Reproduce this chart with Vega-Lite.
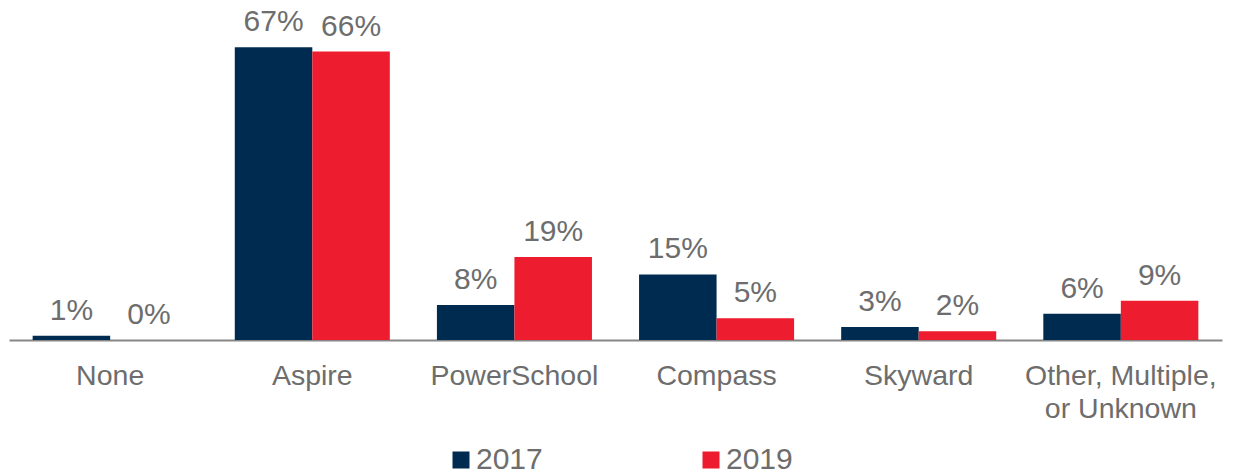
{
  "$schema": "https://vega.github.io/schema/vega-lite/v6.json",
  "width": 1213,
  "height": 340,
  "autosize": {"type": "none"},
  "padding": {"left": 9, "top": 0, "right": 11, "bottom": 136},
  "background": "white",
  "config": {"view": {"stroke": null}, "font": "Liberation Sans"},
  "data": {
    "values": [
      {"category": "None", "year": "2017", "value": 0.01},
      {"category": "None", "year": "2019", "value": 0.0},
      {"category": "Aspire", "year": "2017", "value": 0.67},
      {"category": "Aspire", "year": "2019", "value": 0.66},
      {"category": "PowerSchool", "year": "2017", "value": 0.08},
      {"category": "PowerSchool", "year": "2019", "value": 0.19},
      {"category": "Compass", "year": "2017", "value": 0.15},
      {"category": "Compass", "year": "2019", "value": 0.05},
      {"category": "Skyward", "year": "2017", "value": 0.03},
      {"category": "Skyward", "year": "2019", "value": 0.02},
      {"category": "Other, Multiple, or Unknown", "year": "2017", "value": 0.06},
      {"category": "Other, Multiple, or Unknown", "year": "2019", "value": 0.09}
    ]
  },
  "encoding": {
    "x": {
      "field": "category",
      "type": "nominal",
      "sort": ["None", "Aspire", "PowerSchool", "Compass", "Skyward", "Other, Multiple, or Unknown"],
      "scale": {"paddingInner": 0.233, "paddingOuter": 0.117},
      "axis": {
        "title": null,
        "labelAngle": 0,
        "ticks": false,
        "domainColor": "#868686",
        "domainWidth": 2,
        "labelFontSize": 28.5,
        "labelColor": "#6d6d6d",
        "labelPadding": 21,
        "labelLineHeight": 33,
        "labelLimit": 400,
        "labelExpr": "datum.value == 'Other, Multiple, or Unknown' ? ['Other, Multiple,', 'or Unknown'] : datum.value"
      }
    },
    "xOffset": {"field": "year", "type": "nominal", "scale": {"paddingInner": 0, "paddingOuter": 0}},
    "y": {"field": "value", "type": "quantitative", "scale": {"domain": [0, 0.778]}, "axis": null}
  },
  "layer": [
    {
      "mark": {"type": "bar"},
      "encoding": {
        "color": {
          "field": "year",
          "type": "nominal",
          "scale": {"domain": ["2017", "2019"], "range": ["#002B50", "#ED1C2E"]},
          "legend": {
            "orient": "none",
            "direction": "horizontal",
            "legendX": 437,
            "legendY": 445,
            "title": null,
            "symbolType": "square",
            "symbolSize": 289,
            "symbolStrokeWidth": 0,
            "symbolOpacity": 1,
            "labelFontSize": 30,
            "labelColor": "#6d6d6d",
            "labelOffset": 0,
            "columnPadding": 153
          }
        }
      }
    },
    {
      "mark": {"type": "text", "baseline": "alphabetic", "dy": -16, "fontSize": 30, "color": "#6d6d6d"},
      "encoding": {"text": {"field": "value", "type": "quantitative", "format": ".0%"}}
    }
  ]
}
